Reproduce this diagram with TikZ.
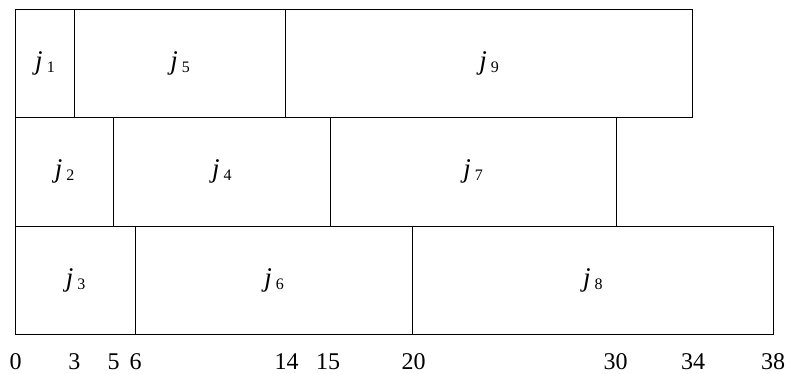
\documentclass[tikz,border=0pt]{standalone}
\usepackage{fontspec}
\setmainfont{Liberation Serif}
\usetikzlibrary{positioning}

\newcommand{\jlab}[1]{\fontsize{27}{30}\selectfont\textit{j}\hspace{4pt}\raisebox{-3pt}{\fontsize{16}{16}\selectfont #1}}

\begin{document}
\begin{tikzpicture}[
    x=1pt, y=-1pt,
    job/.style={draw, line width=0.9pt, inner sep=0pt, outer sep=0pt, minimum height=108.5pt},
    tick/.style={font=\fontsize{24}{26}\selectfont, inner sep=0pt, anchor=base},
    node distance=0pt
]
\useasboundingbox (0,0) rectangle (791,374);

% first machine
\node[job, anchor=north west, minimum width=58.6pt] (j1) at (15.7,9.3) {\jlab{1}};
\node[job, right=of j1, minimum width=211.4pt] (j5) {\jlab{5}};
\node[job, right=of j5, minimum width=406.6pt] (j9) {\jlab{9}};

% second machine
\node[job, anchor=north west, minimum width=98pt] (j2) at (15.7,117.6) {\jlab{2}};
\node[job, right=of j2, minimum width=216.3pt] (j4) {\jlab{4}};
\node[job, right=of j4, minimum width=286pt] (j7) {\jlab{7}};

% third machine
\node[job, anchor=north west, minimum width=120pt] (j3) at (15.7,226.2) {\jlab{3}};
\node[job, right=of j3, minimum width=277pt] (j6) {\jlab{6}};
\node[job, right=of j6, minimum width=360.3pt] (j8) {\jlab{8}};

% time axis
\foreach \t/\x in {0/15.7, 3/74.3, 5/113.7, 6/135.7, 14/286.5, 15/328, 20/413.5, 30/615.5, 34/693, 38/773}
  \node[tick] (t\t) at (\x,369) {\t};

\end{tikzpicture}
\end{document}
